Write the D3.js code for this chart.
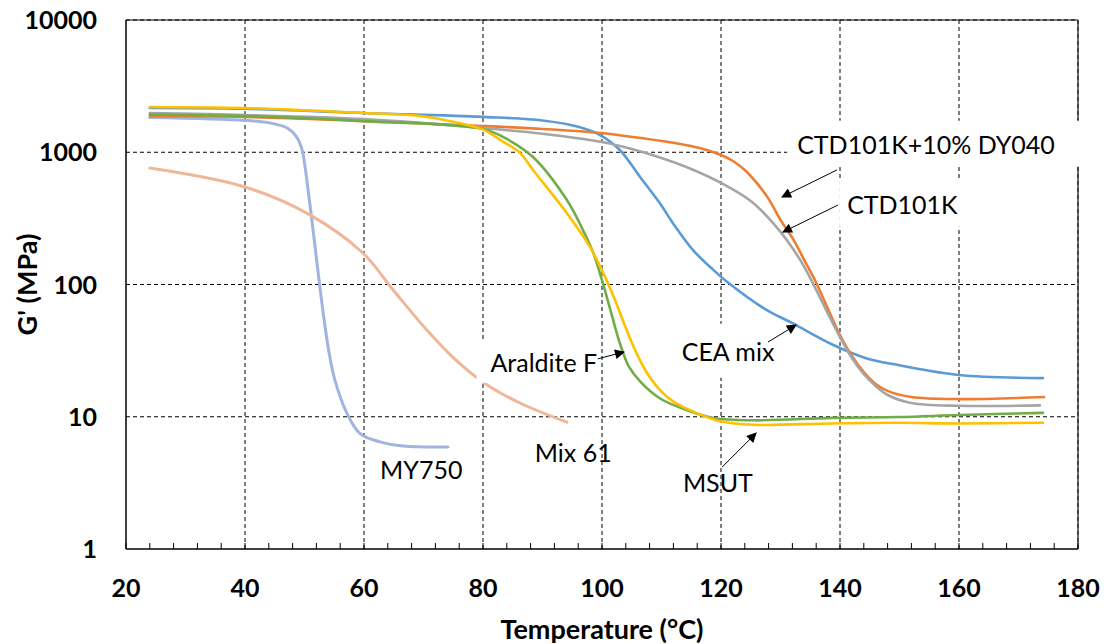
<!DOCTYPE html>
<html>
<head>
<meta charset="utf-8">
<script src="https://cdn.jsdelivr.net/npm/d3@7"></script>
<style>
  body { margin: 0; background: #fff; }
  svg { display: block; }
  text { font-family: Lato, "Open Sans", sans-serif; }
  .tick-label { font-weight: bold; font-size: 25px; }
  .axis-title { font-weight: bold; font-size: 27px; }
  .note { font-size: 25px; }
</style>
</head>
<body>
<div id="chart"></div>
<script>
// data (temperature in °C, storage modulus G' in MPa)
const my750T = [24, 40, 44.2, 47.1, 48.7, 49.6, 50.1, 50.6, 51.3, 52.0, 52.7, 53.4, 54.1, 55.1, 57.1, 59.3, 62.7, 66.6, 74.1];
const my750G = [1830, 1740, 1665, 1525, 1303, 1040, 773, 518, 292, 158, 87, 50, 31, 19, 10.7, 7.5, 6.45, 6.0, 5.9];

const mix61T = [24, 40, 50.9, 59.8, 64.9, 70.6, 75, 80.2, 86.2, 94.1];
const mix61G = [760, 546, 336, 173, 91, 45, 28, 18, 12.7, 9.1];

const ceaT = [24, 40, 60, 80, 90, 96, 99.7, 103, 106.4, 109.7, 111.9, 115.3, 118.7, 121, 127.7, 132, 138.8, 144.5, 150, 160, 174.1];
const ceaG = [2160, 2130, 1980, 1850, 1740, 1560, 1350, 1040, 650, 413, 292, 182, 129, 105, 64, 51, 35, 27.6, 24.5, 20.7, 19.6];

const ctdDyT = [24, 40, 60, 80, 90, 99.7, 110, 114, 117, 120, 122, 124, 126, 128, 130, 132, 134, 136, 138, 140, 142, 144, 146, 148, 152, 160, 174.3];
const ctdDyG = [1870, 1850, 1720, 1580, 1500, 1398, 1216, 1135, 1059, 954, 859, 735, 586, 444, 308, 225, 153, 103, 65, 41.5, 28.8, 21.8, 17.7, 15.7, 14.1, 13.6, 14.1];

const ctdT = [24, 40, 60, 80, 90, 100, 105, 110, 115, 120, 125, 128, 130, 132, 134, 136, 138, 140, 142, 144, 146, 148, 152, 160, 173.6];
const ctdG = [1980, 1913, 1780, 1525, 1380, 1195, 1058, 905, 747, 586, 428, 318, 250, 189, 136, 91, 60, 40, 27.8, 21.0, 17.1, 14.6, 12.7, 12.1, 12.2];

const aralT = [24, 40, 60, 80, 84, 88.4, 94.1, 96.8, 98.5, 100, 101.5, 103, 104.5, 106.4, 109.7, 114.3, 118.7, 125.4, 138.8, 150, 160, 174.1];
const aralG = [1930, 1880, 1720, 1500, 1260, 920, 435, 258, 175, 108, 62, 36, 24, 18.5, 13.8, 11.2, 9.8, 9.4, 9.8, 9.95, 10.3, 10.7];

const msutT = [24, 40, 60, 69.4, 75, 80.2, 82.9, 86.2, 88.4, 94.1, 98, 100, 102, 104, 106, 108, 110, 112, 116, 120, 125.4, 138.8, 150, 160, 174.1];
const msutG = [2200, 2160, 1980, 1880, 1700, 1470, 1240, 990, 735, 346, 192, 128, 80, 47, 29, 20, 15.5, 13, 10.6, 9.2, 8.7, 8.9, 9.0, 8.9, 9.0];

const xTicks = [20, 40, 60, 80, 100, 120, 140, 160, 180];
const yTicks = [1, 10, 100, 1000, 10000];

const seriesNames = ["MY750", "Mix 61", "CEA mix", "CTD101K+10% DY040", "CTD101K", "Araldite F", "MSUT"];
const seriesColors = ["#a0b4df", "#efb798", "#5b9bd5", "#ed7d31", "#a5a5a5", "#70ad47", "#ffc000"];
const seriesT = [my750T, mix61T, ceaT, ctdDyT, ctdT, aralT, msutT];
const seriesG = [my750G, mix61G, ceaG, ctdDyG, ctdG, aralG, msutG];

// annotations, in data units: text anchor point and arrow from/to
const noteText = ["CTD101K+10% DY040", "CTD101K", "CEA mix", "Araldite F", "Mix 61", "MSUT", "MY750"];
const noteAt = [[132.8, 1135], [141.2, 399], [113.4, 30.9], [99.2, 25.5], [88.7, 5.32], [113.6, 3.16], [62.7, 3.95]];
const noteAnchor = ["start", "start", "start", "end", "start", "start", "start"];
const noteBox = [[10, 8, 32], [8, 8, 8], [8, 12, 8], [14, 6, 2], null, null, null];
const arrowFrom = [[139.5, 735], [139.66, 399], [127.9, 36.7], [99.3, 27.4], null, [120.2, 4.17], null];
const arrowTo = [[130.25, 459], [130.4, 249], [132.6, 49.4], [103.7, 30.9], null, [125.9, 7.53], null];

// layout
const width = 1104, height = 644;
const margin = {left: 126, right: 26, top: 20, bottom: 95};

const x = d3.scaleLinear().domain([20, 180]).range([margin.left, width - margin.right]);
const y = d3.scaleLog().domain([1, 10000]).range([height - margin.bottom, margin.top]);

const svg = d3.select("#chart").append("svg")
    .attr("width", width)
    .attr("height", height);

// grid
const grid = svg.append("g")
    .attr("stroke", "#000")
    .attr("stroke-width", 1)
    .attr("stroke-dasharray", "4,3");

grid.selectAll(".vgrid")
    .data(xTicks.slice(1))
    .enter().append("line")
    .attr("x1", d => x(d)).attr("x2", d => x(d))
    .attr("y1", y(1)).attr("y2", y(10000));

grid.selectAll(".hgrid")
    .data(yTicks.slice(1))
    .enter().append("line")
    .attr("x1", x(20)).attr("x2", x(180))
    .attr("y1", d => y(d)).attr("y2", d => y(d));

// curves
const line = d3.line()
    .x(d => x(d[0]))
    .y(d => y(d[1]))
    .curve(d3.curveCatmullRom.alpha(0.5));

svg.append("g")
    .selectAll("path")
    .data(seriesNames)
    .enter().append("path")
    .attr("fill", "none")
    .attr("stroke", (d, i) => seriesColors[i])
    .attr("stroke-width", (d, i) => i < 2 ? 3 : 2.6)
    .attr("stroke-linecap", "round")
    .attr("d", (d, i) => line(seriesT[i].map((t, j) => [t, seriesG[i][j]])));

// axes lines
svg.append("line")
    .attr("x1", x(20)).attr("x2", x(20))
    .attr("y1", y(1)).attr("y2", y(10000))
    .attr("stroke", "#000").attr("stroke-width", 1.5);
svg.append("line")
    .attr("x1", x(20)).attr("x2", x(180))
    .attr("y1", y(1)).attr("y2", y(1))
    .attr("stroke", "#000").attr("stroke-width", 1.5);
svg.append("line")
    .attr("x1", x(20)).attr("x2", x(180))
    .attr("y1", y(10000)).attr("y2", y(10000))
    .attr("stroke", "#000").attr("stroke-width", 1.2);
svg.append("line")
    .attr("x1", x(180)).attr("x2", x(180))
    .attr("y1", y(1)).attr("y2", y(10000))
    .attr("stroke", "#222").attr("stroke-width", 1.3);

// minor ticks on x axis (every 4 °C, pointing inwards)
svg.append("g")
    .selectAll("line")
    .data(d3.range(20, 181, 4))
    .enter().append("line")
    .attr("x1", d => x(d)).attr("x2", d => x(d))
    .attr("y1", y(1)).attr("y2", y(1) - 6)
    .attr("stroke", "#000").attr("stroke-width", 1);

// tick labels
svg.append("g")
    .selectAll("text")
    .data(xTicks)
    .enter().append("text")
    .attr("class", "tick-label")
    .attr("x", d => x(d))
    .attr("y", y(1) + 48)
    .attr("text-anchor", "middle")
    .text(d => d);

svg.append("g")
    .selectAll("text")
    .data(yTicks)
    .enter().append("text")
    .attr("class", "tick-label")
    .attr("x", x(20) - 29)
    .attr("y", d => y(d) + 9)
    .attr("text-anchor", "end")
    .text(d => d);

// axis titles
svg.append("text")
    .attr("class", "axis-title")
    .attr("x", (x(20) + x(180)) / 2)
    .attr("y", 639)
    .attr("text-anchor", "middle")
    .text("Temperature (°C)");

svg.append("text")
    .attr("class", "axis-title")
    .attr("transform", "translate(37," + ((y(1) + y(10000)) / 2) + ") rotate(-90)")
    .attr("text-anchor", "middle")
    .text("G' (MPa)");

// arrow head
svg.append("defs").append("marker")
    .attr("id", "head")
    .attr("viewBox", "0 0 10 10")
    .attr("refX", 9).attr("refY", 5)
    .attr("markerWidth", 12).attr("markerHeight", 10)
    .attr("markerUnits", "userSpaceOnUse")
    .attr("orient", "auto")
    .append("path")
    .attr("d", "M0,0 L10,5 L0,10 z")
    .attr("fill", "#000");

// annotation labels
const notes = svg.append("g");
noteText.forEach((t, i) => {
    const g = notes.append("g");
    const txt = g.append("text")
        .attr("class", "note")
        .attr("x", x(noteAt[i][0]))
        .attr("y", y(noteAt[i][1]))
        .attr("dy", "0.35em")
        .attr("text-anchor", noteAnchor[i])
        .text(t);
    if (noteBox[i]) {
        const b = txt.node().getBBox();
        const p = noteBox[i];
        g.insert("rect", "text")
            .attr("x", b.x - p[0])
            .attr("y", b.y - p[1])
            .attr("width", b.width + p[0] + p[2])
            .attr("height", b.height + 2 * p[1])
            .attr("fill", "#fff");
    }
    if (arrowFrom[i]) {
        notes.append("line")
            .attr("x1", x(arrowFrom[i][0]))
            .attr("y1", y(arrowFrom[i][1]))
            .attr("x2", x(arrowTo[i][0]))
            .attr("y2", y(arrowTo[i][1]))
            .attr("stroke", "#000")
            .attr("stroke-width", 1)
            .attr("marker-end", "url(#head)");
    }
});
</script>
</body>
</html>
